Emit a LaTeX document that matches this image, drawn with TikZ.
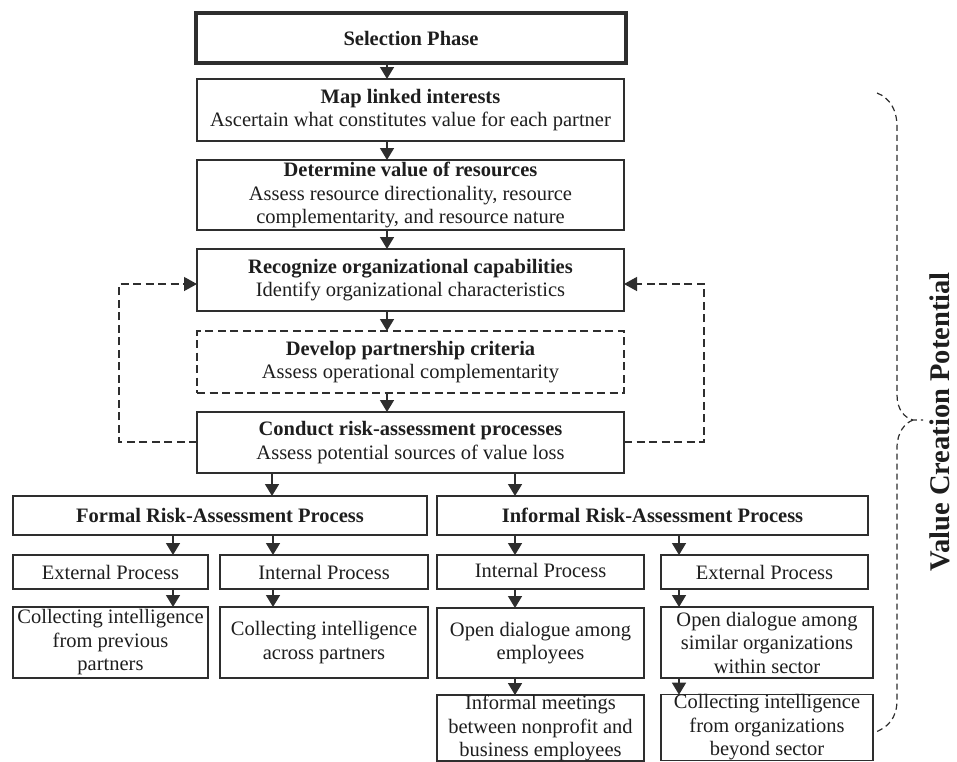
\documentclass[tikz,border=0pt]{standalone}
\usepackage{fontspec}
\setmainfont{Liberation Serif}
\usetikzlibrary{arrows.meta}
\definecolor{ink}{HTML}{2E2E2E}
\definecolor{txt}{HTML}{1E1E1E}
\tikzset{
 box/.style={draw=ink, line width=1.3pt, inner sep=0pt, outer sep=0pt, align=center, text=txt, font=\fontsize{20.5}{23.5}\selectfont},
 dashbox/.style={box, dash pattern=on 8pt off 4.5pt},
 thickbox/.style={box, line width=4pt},
 flow/.style={draw=ink, line width=1.5pt, -{Triangle[width=14pt,length=12pt]}},
 loopline/.style={draw=ink, line width=1.3pt, dash pattern=on 8pt off 4.5pt, -{Triangle[width=14pt,length=13pt]}},
 bracelike/.style={draw=ink, line width=1.2pt, dash pattern=on 6pt off 4pt},
}
\begin{document}
\begin{tikzpicture}[x=1pt,y=-1pt]
\useasboundingbox[fill=white] (0,0) rectangle (957,761);

% main column
\node[thickbox, minimum width=430pt, minimum height=50pt] (sel) at (411,38) {\textbf{Selection Phase}};
\node[box, minimum width=427pt, minimum height=62pt] (map) at (410.5,110) {\textbf{Map linked interests}\\Ascertain what constitutes value for each partner};
\node[box, minimum width=427pt, minimum height=70pt] (det) at (410.5,195) {\textbf{Determine value of resources}\\Assess resource directionality, resource\\complementarity, and resource nature};
\node[box, minimum width=427pt, minimum height=62pt] (rec) at (410.5,280) {\textbf{Recognize organizational capabilities}\\Identify organizational characteristics};
\node[dashbox, minimum width=427pt, minimum height=62pt] (dev) at (410.5,362) {\textbf{Develop partnership criteria}\\Assess operational complementarity};
\node[box, minimum width=427pt, minimum height=61pt] (con) at (410.5,442.5) {\textbf{Conduct risk-assessment processes}\\Assess potential sources of value loss};

% second level
\node[box, minimum width=414pt, minimum height=39pt] (formal) at (220,515.5) {\textbf{Formal Risk-Assessment Process}};
\node[box, minimum width=431pt, minimum height=39pt] (informal) at (652.5,515.5) {\textbf{Informal Risk-Assessment Process}};

% formal branch
\node[box, minimum width=195pt, minimum height=34pt] (fext) at (110.5,572) {External Process};
\node[box, minimum width=208pt, minimum height=34pt] (fint) at (324,572) {Internal Process};
\node[box, minimum width=195pt, minimum height=71pt] (fcolA) at (110.5,642.5) {Collecting intelligence\\from previous\\partners};
\node[box, minimum width=208pt, minimum height=71pt] (fcolB) at (324,642.5) {Collecting intelligence\\across partners};

% informal branch
\node[box, minimum width=207pt, minimum height=34pt] (iint) at (540.5,572) {\raisebox{4pt}{Internal Process}};
\node[box, minimum width=207pt, minimum height=34pt] (iext) at (764.5,572) {External Process};
\node[box, minimum width=207pt, minimum height=70pt] (iopA) at (540.5,643) {Open dialogue among\\employees};
\node[box, minimum width=212pt, minimum height=71pt] (iopB) at (767,642.5) {Open dialogue among\\similar organizations\\within sector};
\node[box, minimum width=207pt, minimum height=64pt] (imeet) at (540.5,728) {Informal meetings\\between nonprofit and\\business employees};
\node[box, minimum width=212pt, minimum height=65pt] (icol) at (767,727.5) {Collecting intelligence\\from organizations\\beyond sector};

% arrow columns
\coordinate (ax) at (387,0);
\coordinate (xa) at (272,0);
\coordinate (xb) at (515,0);
\coordinate (xc) at (173,0);
\coordinate (xd) at (273,0);
\coordinate (xe) at (679,0);

\draw[flow] (sel.south -| ax) -- (map.north -| ax);
\draw[flow] (map.south -| ax) -- (det.north -| ax);
\draw[flow] (det.south -| ax) -- (rec.north -| ax);
\draw[flow] (rec.south -| ax) -- (dev.north -| ax);
\draw[flow] (dev.south -| ax) -- (con.north -| ax);

\draw[flow] (con.south -| xa) -- (formal.north -| xa);
\draw[flow] (con.south -| xb) -- (informal.north -| xb);

\draw[flow] (formal.south -| xc) -- (fext.north -| xc);
\draw[flow] (formal.south -| xd) -- (fint.north -| xd);
\draw[flow] (fext.south -| xc) -- (fcolA.north -| xc);
\draw[flow] (fint.south -| xd) -- (fcolB.north -| xd);

\draw[flow] (informal.south -| xb) -- (iint.north -| xb);
\draw[flow] (informal.south -| xe) -- (iext.north -| xe);
\draw[flow] (iint.south -| xb) -- (iopA.north -| xb);
\draw[flow] (iext.south -| xe) -- (iopB.north -| xe);
\draw[flow] (iopA.south -| xb) -- (imeet.north -| xb);
\draw[flow] (iopB.south -| xe) -- (icol.north -| xe);

% feedback loops
\coordinate (lb) at (119,442);
\coordinate (lt) at (119,284);
\coordinate (rb) at (704,442);
\coordinate (rt) at (704,284);
\draw[loopline] (con.west |- lb) -- (lb) -- (lt) -- (rec.west |- lt);
\draw[loopline] (con.east |- rb) -- (rb) -- (rt) -- (rec.east |- rt);

% brace
\coordinate (bs) at (877,93);
\coordinate (bt) at (897,127);
\coordinate (bm1) at (897,395);
\coordinate (bc) at (913,420);
\coordinate (btick) at (923,420);
\coordinate (bm2) at (897,448);
\coordinate (bm3) at (897,700);
\coordinate (be) at (873,733);
\draw[bracelike] (bs) .. controls (890,98) and (897,110) .. (bt) -- (bm1)
  .. controls (897,410) and (905,418) .. (bc) -- (btick);
\draw[bracelike] (bc) .. controls (905,423) and (897,432) .. (bm2) -- (bm3)
  .. controls (897,718) and (888,728) .. (be);

\node[rotate=90, inner sep=0pt, text=txt, font=\fontsize{28.5}{32}\selectfont\bfseries] (vcp) at (940,422) {Value Creation Potential};
\end{tikzpicture}
\end{document}
